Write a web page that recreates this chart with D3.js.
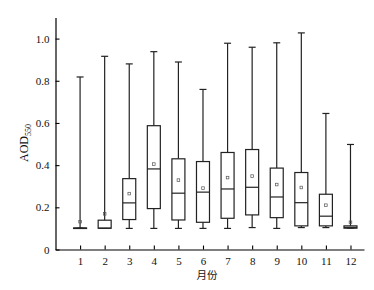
<!DOCTYPE html>
<html>
<head>
<meta charset="utf-8">
<script src="https://cdn.jsdelivr.net/npm/d3@7"></script>
<style>
  body { margin: 0; background: #fff; }
  svg text { font-family: "Liberation Serif", "Times New Roman", serif; }
</style>
</head>
<body>
<div class="main-container"></div>
<script>
// monthly AOD550 box stats
const months = [1, 2, 3, 4, 5, 6, 7, 8, 9, 10, 11, 12];
const maxV   = [0.818, 0.916, 0.880, 0.938, 0.889, 0.759, 0.978, 0.959, 0.980, 1.027, 0.645, 0.498];
const q3     = [0.102, 0.139, 0.336, 0.587, 0.430, 0.417, 0.460, 0.474, 0.386, 0.365, 0.262, 0.112];
const median = [0.101, 0.101, 0.221, 0.382, 0.267, 0.272, 0.287, 0.295, 0.249, 0.222, 0.158, 0.105];
const q1     = [0.101, 0.101, 0.142, 0.194, 0.140, 0.129, 0.148, 0.164, 0.151, 0.112, 0.112, 0.101];
const minV   = [0.101, 0.101, 0.100, 0.100, 0.100, 0.100, 0.100, 0.104, 0.100, 0.104, 0.104, 0.101];
const meanV  = [0.132, 0.169, 0.265, 0.405, 0.329, 0.291, 0.341, 0.348, 0.308, 0.294, 0.210, 0.129];
const yTicks = [0, 0.2, 0.4, 0.6, 0.8, 1.0];

const width = 374;
const height = 290;
const boxW = 13;
const capW = 7;

const data = months.map((m, i) => ({
    month: m, max: maxV[i], q3: q3[i], med: median[i], q1: q1[i], min: minV[i], mean: meanV[i]
}));

const svg = d3.select(".main-container")
    .append("svg")
    .attr("width", width)
    .attr("height", height);

const x = d3.scaleLinear().domain([0, 12.55]).range([55.5, 364]);
const y = d3.scaleLinear().domain([0, 1.1]).range([249.5, 17.5]);

// axes
const xAxis = svg.append("g")
    .attr("transform", "translate(0," + y(0) + ")")
    .call(d3.axisBottom(x).tickValues(months).tickFormat(d3.format("d"))
        .tickSizeInner(-4).tickSizeOuter(0).tickPadding(8));

const yAxis = svg.append("g")
    .attr("transform", "translate(" + x(0) + ",0)")
    .call(d3.axisLeft(y).tickValues(yTicks)
        .tickFormat(d => d === 0 ? "0" : d3.format(".1f")(d))
        .tickSizeInner(-4).tickSizeOuter(0).tickPadding(6));

[xAxis, yAxis].forEach(a => {
    a.select(".domain").attr("stroke", "#000").attr("stroke-width", 1.2);
    a.selectAll(".tick line").attr("stroke", "#000").attr("stroke-width", 1.1);
    a.selectAll("text")
        .attr("fill", "#111")
        .style("font-family", "'Liberation Serif', serif")
        .style("font-size", "11px");
});

// boxes
const g = svg.append("g")
    .attr("stroke", "#222")
    .attr("stroke-width", 1.2)
    .attr("fill", "none");

const box = g.selectAll("g.box")
    .data(data)
    .enter()
    .append("g")
    .attr("class", "box");

// whiskers
box.append("line")
    .attr("x1", d => x(d.month)).attr("x2", d => x(d.month))
    .attr("y1", d => y(d.q3)).attr("y2", d => y(d.max));
box.append("line")
    .attr("x1", d => x(d.month)).attr("x2", d => x(d.month))
    .attr("y1", d => y(d.q1)).attr("y2", d => y(d.min));
// caps
box.append("line")
    .attr("x1", d => x(d.month) - capW / 2).attr("x2", d => x(d.month) + capW / 2)
    .attr("y1", d => y(d.max)).attr("y2", d => y(d.max));
box.append("line")
    .attr("x1", d => x(d.month) - capW / 2).attr("x2", d => x(d.month) + capW / 2)
    .attr("y1", d => y(d.min)).attr("y2", d => y(d.min));
// box
box.append("rect")
    .attr("x", d => x(d.month) - boxW / 2)
    .attr("width", boxW)
    .attr("y", d => y(d.q3))
    .attr("height", d => Math.max(y(d.q1) - y(d.q3), 0.5))
    .attr("fill", "#fff");
// median
box.append("line")
    .attr("x1", d => x(d.month) - boxW / 2).attr("x2", d => x(d.month) + boxW / 2)
    .attr("y1", d => y(d.med)).attr("y2", d => y(d.med));
// mean marker
box.append("rect")
    .attr("x", d => x(d.month) - 1.3)
    .attr("y", d => y(d.mean) - 1.3)
    .attr("width", 2.6)
    .attr("height", 2.6)
    .attr("stroke-width", 0.7)
    .attr("stroke", "#555");

// axis titles
svg.append("text")
    .attr("x", 207)
    .attr("y", 279)
    .attr("text-anchor", "middle")
    .style("font-family", "'Noto Sans CJK SC', sans-serif")
    .style("font-size", "10.5px")
    .attr("fill", "#111")
    .text("月份");

const yl = svg.append("text")
    .attr("transform", "translate(28,143) rotate(-90)")
    .attr("text-anchor", "middle")
    .style("font-size", "12px")
    .attr("fill", "#111");
yl.append("tspan").text("AOD");
yl.append("tspan").attr("dy", 3).style("font-size", "8px").text("550");
</script>
</body>
</html>
